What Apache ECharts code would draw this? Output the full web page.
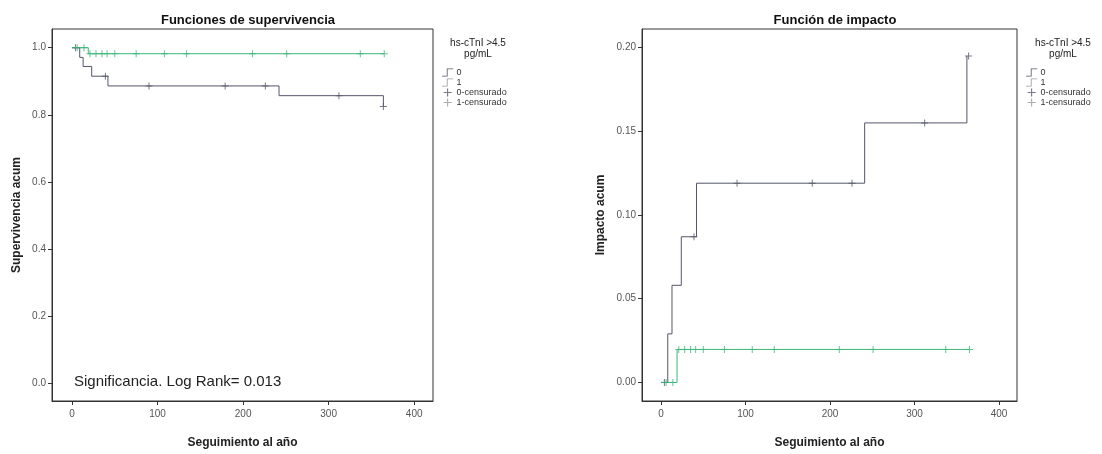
<!DOCTYPE html>
<html>
<head>
<meta charset="utf-8">
<script src="https://cdn.jsdelivr.net/npm/echarts@6/dist/echarts.min.js"></script>
<style>
  html, body { margin: 0; padding: 0; background: #fff; }
  #main { width: 1102px; height: 454px; }
</style>
</head>
<body>
<div id="main"></div>
<script>
// valores (dias de seguimiento)
var xTicks = [0, 100, 200, 300, 400];
var survTicks = [0, 0.2, 0.4, 0.6, 0.8, 1.0];
var hazTicks = [0, 0.05, 0.10, 0.15, 0.20];

// grupo 0 (hs-cTnI <= 4.5)
var survTimes0 = [0, 9, 13, 23, 42, 242, 364];
var survVals0 = [1, 0.971, 0.944, 0.915, 0.886, 0.857, 0.825];
var hazTimes0 = [0, 8, 13, 24, 42, 241, 362];
var hazVals0 = [0, 0.029, 0.058, 0.087, 0.119, 0.155, 0.195];
var censTimes0 = [4, 39, 90, 179, 226, 312, 364];

// grupo 1
var survTimes1 = [0, 19, 365];
var survVals1 = [1, 0.982, 0.982];
var hazTimes1 = [0, 19, 365];
var hazVals1 = [0, 0.0197, 0.0197];
var censTimes1 = [6, 14, 21, 28, 35, 41, 50, 75, 108, 134, 211, 251, 337, 365];

var col0 = '#55566a';
var col1 = '#3cb67a';
var stepIcon = 'path://M0,9H6V0H14V1H7V10H0Z';
var plusIcon = 'path://M3,0h1v3h3v1h-3v3h-1v-3h-3v-1h3z';

function pairs(times, vals) {
    var out = [];
    for (var i = 0; i < times.length; i++) out.push([times[i], vals[i]]);
    return out;
}
function stepAt(times, vals, t) {
    var v = vals[0];
    for (var i = 0; i < times.length; i++) { if (times[i] <= t) v = vals[i]; }
    return v;
}
function cens(ct, times, vals) {
    return ct.map(function (t) { return [t, stepAt(times, vals, t)]; });
}

var font = 'Liberation Sans, Arial, sans-serif';
var chart = echarts.init(document.getElementById('main'));

function xAxisDef(gridIndex, min, max) {
    return {
        type: 'value', gridIndex: gridIndex, min: min, max: max,
        name: 'Seguimiento al año', nameLocation: 'middle', nameGap: 36,
        nameTextStyle: { fontFamily: font, fontSize: 12, fontWeight: 'bold', color: '#222' },
        splitLine: { show: false },
        axisLine: { show: true, onZero: false, lineStyle: { color: '#333', width: 1 } },
        axisTick: { show: true, inside: false, length: 4, customValues: xTicks, lineStyle: { color: '#333' } },
        axisLabel: { customValues: xTicks, margin: 8, fontFamily: font, fontSize: 10, color: '#555' }
    };
}
function yAxisDef(gridIndex, min, max, name, gap, ticks, dec) {
    return {
        type: 'value', gridIndex: gridIndex, min: min, max: max,
        name: name, nameLocation: 'middle', nameGap: gap,
        nameTextStyle: { fontFamily: font, fontSize: 12, fontWeight: 'bold', color: '#222' },
        splitLine: { show: false },
        axisLine: { show: true, onZero: false, lineStyle: { color: '#333', width: 1 } },
        axisTick: { show: true, inside: false, length: 4, customValues: ticks, lineStyle: { color: '#333' } },
        axisLabel: {
            customValues: ticks, margin: 6, fontFamily: font, fontSize: 10, color: '#555',
            formatter: function (v) { return v.toFixed(dec); }
        }
    };
}
function lineSeries(name, data, color, gi) {
    return {
        name: name, type: 'line', step: 'end', data: data,
        xAxisIndex: gi, yAxisIndex: gi,
        symbol: 'none', silent: true,
        lineStyle: { color: color, width: 1 }, itemStyle: { color: color }
    };
}
function censSeries(name, data, color, gi) {
    return {
        name: name, type: 'scatter', data: data,
        xAxisIndex: gi, yAxisIndex: gi,
        symbol: plusIcon, symbolSize: 7, silent: true,
        itemStyle: { color: color }
    };
}
function legendDef(left) {
    return {
        orient: 'vertical', left: left, top: 63, itemGap: 1,
        itemWidth: 16, itemHeight: 8, selectedMode: false,
        textStyle: { fontFamily: font, fontSize: 9, color: '#333', padding: [0, 0, 0, -4] },
        data: [
            { name: '0', icon: stepIcon, itemStyle: { color: col0 } },
            { name: '1', icon: stepIcon, itemStyle: { color: '#9a9a9a' } },
            { name: '0-censurado', icon: plusIcon, itemStyle: { color: col0 } },
            { name: '1-censurado', icon: plusIcon, itemStyle: { color: '#9a9a9a' } }
        ]
    };
}

var option = {
    backgroundColor: '#fff',
    animation: false,
    title: [
        { text: 'Funciones de supervivencia', left: 243, top: 9, textAlign: 'center',
          textStyle: { fontFamily: font, fontSize: 13, fontWeight: 'bold', color: '#111' } },
        { text: 'Función de impacto', left: 830, top: 9, textAlign: 'center',
          textStyle: { fontFamily: font, fontSize: 13, fontWeight: 'bold', color: '#111' } },
        { text: 'hs-cTnI >4.5\npg/mL', left: 473, top: 33, textAlign: 'center',
          textStyle: { fontFamily: font, fontSize: 10, fontWeight: 'normal', color: '#222', lineHeight: 11 } },
        { text: 'hs-cTnI >4.5\npg/mL', left: 1058, top: 33, textAlign: 'center',
          textStyle: { fontFamily: font, fontSize: 10, fontWeight: 'normal', color: '#222', lineHeight: 11 } }
    ],
    legend: [legendDef(437), legendDef(1021)],
    grid: [
        { left: 52, top: 29, width: 381, height: 379, show: true, borderColor: '#333', borderWidth: 1, backgroundColor: '#fff' },
        { left: 642, top: 29, width: 375, height: 380, show: true, borderColor: '#333', borderWidth: 1, backgroundColor: '#fff' }
    ],
    xAxis: [xAxisDef(0, -23.4, 422), xAxisDef(1, -22.5, 421.3)],
    yAxis: [
        yAxisDef(0, -0.0526, 1.0556, 'Supervivencia acum', 29, survTicks, 1),
        yAxisDef(1, -0.0111, 0.2111, 'Impacto acum', 35, hazTicks, 2)
    ],
    graphic: [
        { type: 'text', left: 74, top: 374,
          style: { text: 'Significancia. Log Rank= 0.013', fontFamily: font, fontSize: 15, fill: '#222' } }
    ],
    series: [
        lineSeries('0', pairs(survTimes0, survVals0), col0, 0),
        lineSeries('1', pairs(survTimes1, survVals1), col1, 0),
        censSeries('0-censurado', cens(censTimes0, survTimes0, survVals0), col0, 0),
        censSeries('1-censurado', cens(censTimes1, survTimes1, survVals1), col1, 0),
        lineSeries('0', pairs(hazTimes0, hazVals0), col0, 1),
        lineSeries('1', pairs(hazTimes1, hazVals1), col1, 1),
        censSeries('0-censurado', cens(censTimes0, hazTimes0, hazVals0), col0, 1),
        censSeries('1-censurado', cens(censTimes1, hazTimes1, hazVals1), col1, 1)
    ]
};
chart.setOption(option);
</script>
</body>
</html>
